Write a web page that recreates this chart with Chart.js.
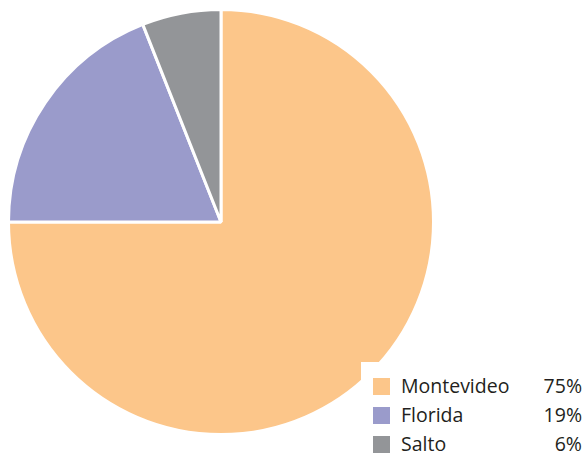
<!DOCTYPE html>
<html><head><meta charset="utf-8">
<script src="https://cdn.jsdelivr.net/npm/chart.js@4"></script>
<style>
html,body{margin:0;padding:0;background:#fff;}
#wrap{position:relative;width:585px;height:453px;}
#legend{position:absolute;left:361px;top:362px;width:224px;height:91px;background:#fff;font-family:"Open Sans","Noto Sans",sans-serif;font-size:19.5px;color:#231f20;}
.row{position:absolute;left:0;width:221px;height:29px;}
.sw{position:absolute;left:12px;top:3px;width:17px;height:17px;}
.lab{position:absolute;left:40px;top:-2px;line-height:25px;}
.pct{position:absolute;right:0;top:-2px;line-height:25px;}
</style></head>
<body><div id="wrap"><canvas id="c" width="585" height="453"></canvas><div id="legend"></div></div>
<script>
const categories = ["Montevideo", "Florida", "Salto"];
const values = [75, 19, 6];
const colors = ["#FCC68A", "#9A9BCB", "#939598"];

const ctx = document.getElementById('c');
new Chart(ctx, {
  type: 'pie',
  data: { labels: categories, datasets: [{ data: values, backgroundColor: colors, borderColor: '#ffffff', borderWidth: 3 }] },
  options: {
    responsive: false, animation: false, devicePixelRatio: 1,
    layout: { padding: { left: 7, right: 150, top: 8, bottom: 17 } },
    plugins: { legend: { display: false }, tooltip: { enabled: false } }
  }
});
const lg = document.getElementById('legend');
categories.forEach((c, i) => {
  const r = document.createElement('div'); r.className = 'row'; r.style.top = (13 + i * 29) + 'px';
  r.innerHTML = '<div class="sw" style="background:' + colors[i] + '"></div><span class="lab">' + c + '</span><span class="pct">' + values[i] + '%</span>';
  lg.appendChild(r);
});
</script></body></html>
